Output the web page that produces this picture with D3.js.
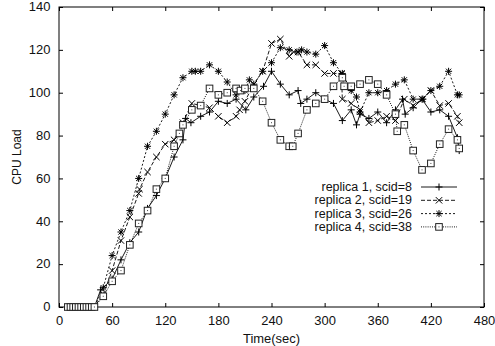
<!DOCTYPE html>
<html>
<head>
<meta charset="utf-8">
<script src="https://cdn.jsdelivr.net/npm/d3@7"></script>
<style>
  body { margin: 0; background: #fff; }
  svg { display: block; font-family: "Liberation Sans", Arial, sans-serif; }
  .axis text { font-size: 12px; fill: #111; }
  .axis path { display: none; }
  .axis line { stroke: #000; }
</style>
</head>
<body>
<svg id="chart" width="495" height="346"></svg>
<script>
'use strict';

// samples while idle, all at zero
var zeroTimes = [10, 13, 16, 19, 22, 25, 28, 31, 34, 37, 40];

// [time(sec), cpu load]
var replica1 = [[47,8],[60,13],[70,22],[80,30],[90,35],[100,46],[110,52],[120,60],[130,70],[140,78],
  [143,88],[149,86],[160,89],[170,91],[180,96],[190,95],[200,97],[211,92],[220,98],[231,103],
  [240,110],[250,104],[260,99],[270,101],[273,95],[280,97],[290,100],[300,97],[310,95],[320,87],
  [330,92],[336,85],[340,90],[350,88],[360,91],[370,86],[380,92],[388,97],[391,90],[400,93],
  [410,97],[420,91],[430,92],[440,89],[450,79],[452,73]];

var replica2 = [[50,6],[60,17],[70,31],[80,42],[90,53],[91,55],[100,63],[110,70],[120,76],[130,78],
  [140,86],[150,95],[160,94],[170,93],[180,89],[190,86],[200,89],[204,92],[210,96],[220,104],
  [230,110],[240,123],[250,125],[260,117],[265,119],[270,119],[280,113],[290,113],[300,109],
  [310,109],[319,109],[320,97],[330,95],[340,92],[350,86],[360,87],[370,89],[380,87],[390,97],
  [400,94],[410,97],[420,101],[430,94],[440,95],[450,89],[452,86]];

var replica3 = [[50,9],[60,24],[70,35],[80,45],[90,60],[100,75],[110,82],[120,90],[130,99],[140,107],
  [150,110],[154,110],[160,110],[170,113],[180,110],[190,105],[200,99],[210,101],[215,106],[220,104],
  [230,110],[240,114],[250,121],[260,120],[270,119],[274,120],[280,119],[290,118],[300,122],[310,114],
  [320,109],[330,101],[336,98],[340,91],[350,100],[360,100],[370,101],[380,104],[390,106],[400,97],
  [411,97],[420,101],[430,103],[440,110],[450,99],[452,99]];

var replica4 = [[50,5],[60,12],[70,17],[80,29],[90,39],[100,45],[110,55],[120,60],[130,75],[136,81],
  [140,85],[150,92],[160,94],[170,102],[180,99],[190,100],[200,102],[205,101],[210,102],[220,102],
  [230,96],[240,86],[250,78],[260,75],[264,75],[270,81],[280,92],[290,95],[300,97],[310,103],
  [320,107],[322,103],[330,103],[340,104],[350,106],[360,104],[370,99],[380,90],[382,82],[390,85],
  [400,73],[410,64],[420,67],[430,76],[440,83],[450,78],[452,74]];

var seriesNames = ['replica 1, scid=8', 'replica 2, scid=19', 'replica 3, scid=26', 'replica 4, scid=38'];
var xTicks = [0, 60, 120, 180, 240, 300, 360, 420, 480];
var yTicks = [0, 20, 40, 60, 80, 100, 120, 140];

var width = 495
  , height = 346
  , margin = { left: 59, right: 11, top: 7, bottom: 39 }
  , stretch = 'scale(1.08,1)'   // the original figure is a bit wide
  , svg = d3.select('#chart');

var x = d3.scaleLinear().domain([0, 480]).range([margin.left, width - margin.right])
  , y = d3.scaleLinear().domain([0, 140]).range([height - margin.bottom, margin.top]);

function withZeros(pts){
  return zeroTimes.map(function(t){ return [t, 0]; }).concat(pts);
}

var series = [
  { name: seriesNames[0], values: withZeros(replica1), dash: null,    marker: 'plus' },
  { name: seriesNames[1], values: withZeros(replica2), dash: '4,2',   marker: 'cross' },
  { name: seriesNames[2], values: withZeros(replica3), dash: '2,2',   marker: 'star' },
  { name: seriesNames[3], values: withZeros(replica4), dash: '1,1.2', marker: 'square' }
];

// axes: ticks point inward, mirrored on top and right
svg.append('g').attr('class', 'axis')
   .attr('transform', 'translate(0,' + y(0) + ')')
   .call(d3.axisBottom(x).tickValues(xTicks).tickSizeInner(-4).tickSizeOuter(0).tickPadding(9))
   .selectAll('text').attr('transform', stretch);

svg.append('g').attr('class', 'axis')
   .attr('transform', 'translate(' + x(0) + ',0)')
   .call(d3.axisLeft(y).tickValues(yTicks).tickSizeInner(-4).tickSizeOuter(0).tickPadding(8))
   .selectAll('text').attr('transform', stretch);

svg.append('g').attr('class', 'axis')
   .attr('transform', 'translate(0,' + y(140) + ')')
   .call(d3.axisTop(x).tickValues(xTicks).tickSizeInner(-4).tickSizeOuter(0).tickFormat(''));

svg.append('g').attr('class', 'axis')
   .attr('transform', 'translate(' + x(480) + ',0)')
   .call(d3.axisRight(y).tickValues(yTicks).tickSizeInner(-4).tickSizeOuter(0).tickFormat(''));

svg.append('rect')
   .attr('x', x(0)).attr('y', y(140))
   .attr('width', x(480) - x(0)).attr('height', y(0) - y(140))
   .attr('fill', 'none').attr('stroke', '#000');

svg.append('text')
   .attr('transform', 'translate(' + ((x(0) + x(480)) / 2) + ',343) ' + stretch)
   .attr('text-anchor', 'middle').attr('font-size', 12).attr('fill', '#111')
   .text('Time(sec)');

svg.append('text')
   .attr('transform', 'translate(21,' + ((y(0) + y(140)) / 2) + ') rotate(-90)')
   .attr('text-anchor', 'middle').attr('font-size', 12).attr('fill', '#111')
   .text('CPU Load');

var line = d3.line().x(function(d){ return x(d[0]); }).y(function(d){ return y(d[1]); });

// markers
function drawMarker(g, kind, cx, cy){
  var s = 3.5;
  if (kind == 'plus' || kind == 'star'){
    g.append('path').attr('d', 'M' + (cx - s) + ',' + cy + 'H' + (cx + s) + 'M' + cx + ',' + (cy - s) + 'V' + (cy + s))
     .attr('stroke', '#000').attr('stroke-width', 1);
  }
  if (kind == 'cross' || kind == 'star'){
    var c = kind == 'star' ? 2.6 : 3.2;
    g.append('path').attr('d', 'M' + (cx - c) + ',' + (cy - c) + 'L' + (cx + c) + ',' + (cy + c) + 'M' + (cx - c) + ',' + (cy + c) + 'L' + (cx + c) + ',' + (cy - c))
     .attr('stroke', '#000').attr('stroke-width', 1);
  }
  if (kind == 'square'){
    g.append('rect').attr('x', cx - 3.3).attr('y', cy - 3.3).attr('width', 6.6).attr('height', 6.6)
     .attr('fill', '#fff').attr('stroke', '#222').attr('stroke-width', 1);
    g.append('rect').attr('x', cx - 0.5).attr('y', cy - 0.5).attr('width', 1).attr('height', 1)
     .attr('fill', '#444');
  }
}

series.forEach(function(s){
  var g = svg.append('g');
  g.append('path')
   .attr('d', line(s.values))
   .attr('fill', 'none')
   .attr('stroke', '#000')
   .attr('stroke-width', 0.9)
   .attr('stroke-dasharray', s.dash);
  s.values.forEach(function(d){ drawMarker(g, s.marker, x(d[0]), y(d[1])); });
});

// legend
var legend = svg.append('g');
series.forEach(function(s, i){
  var ly = 187 + i * 13.3;
  legend.append('text')
        .attr('transform', 'translate(412,' + (ly + 4) + ') scale(1.04,1)')
        .attr('text-anchor', 'end').attr('font-size', 12).attr('fill', '#111')
        .text(s.name);
  legend.append('path')
        .attr('d', 'M421,' + ly + 'H457')
        .attr('stroke', '#000').attr('stroke-width', 0.9)
        .attr('stroke-dasharray', s.dash);
  drawMarker(legend, s.marker, 439, ly);
});
</script>
</body>
</html>
